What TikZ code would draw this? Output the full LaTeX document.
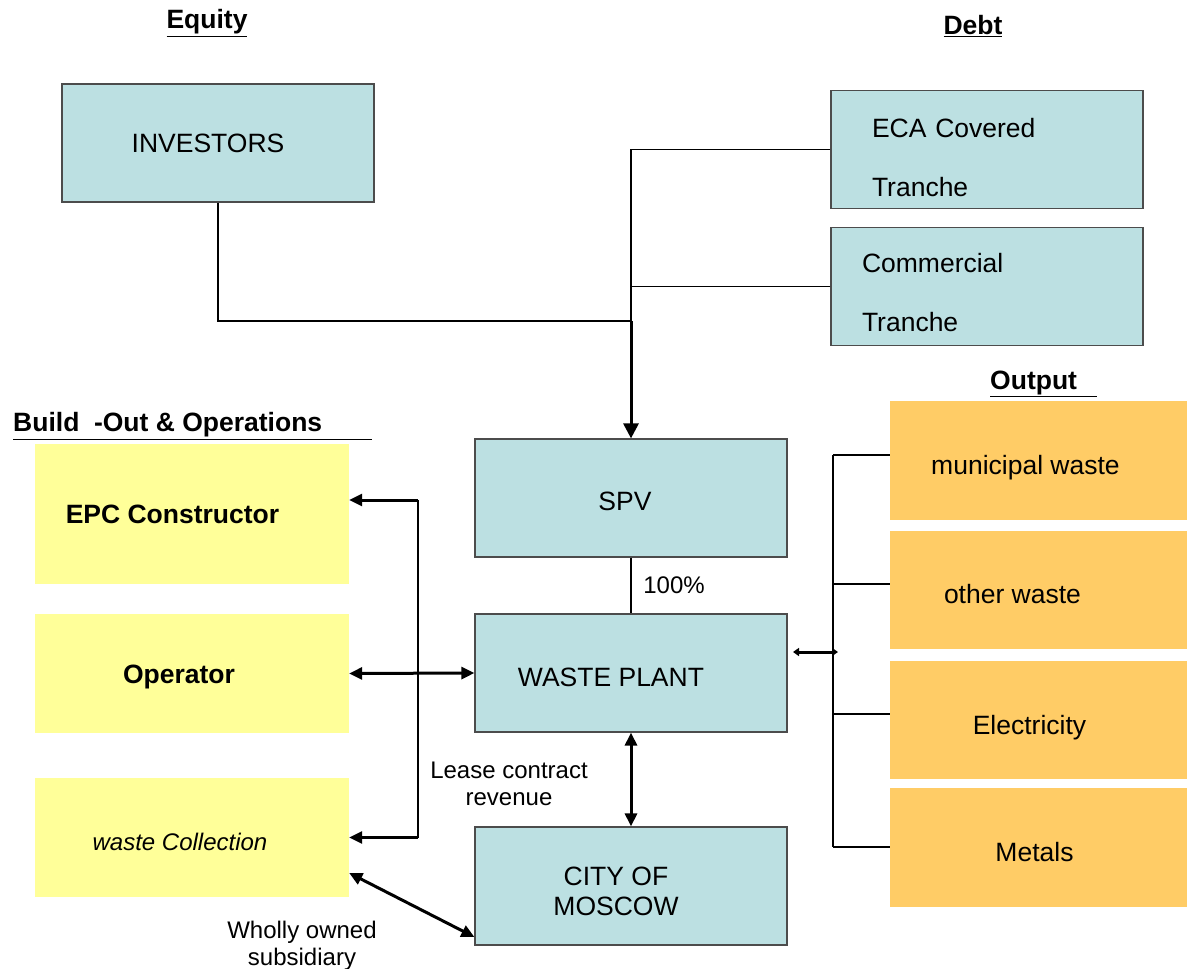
\documentclass[tikz,border=0pt]{standalone}
\usepackage{fontspec}
\setmainfont{Liberation Sans}
\usetikzlibrary{arrows.meta}
\definecolor{tealbox}{HTML}{BCE0E2}
\definecolor{yelbox}{HTML}{FFFF99}
\definecolor{orgbox}{HTML}{FFCC66}
\newcommand{\padR}[1]{\rule{#1}{0pt}}
\begin{document}
\begin{tikzpicture}[x=1pt,y=-1pt,
  boxfont/.style={font=\fontsize{26.5}{30}\selectfont},
  tbox/.style={draw=black!70, line width=1.2pt, fill=tealbox, minimum width=312pt, minimum height=118pt, inner sep=0pt, boxfont},
  ybox/.style={fill=yelbox, minimum width=314pt, minimum height=119pt, inner sep=0pt, boxfont},
  obox/.style={fill=orgbox, minimum width=297pt, minimum height=119pt, inner sep=0pt, boxfont},
  hdr/.style={font=\fontsize{26.5}{30}\selectfont\bfseries, inner sep=0pt},
  lbl/.style={font=\fontsize{24}{27}\selectfont, align=center, inner sep=0pt},
  thinln/.style={line width=1.5pt},
  thickln/.style={line width=3pt},
  bigtip/.style={-{Triangle[length=15pt,width=15pt]}},
  dbltip/.style={{Triangle[length=13pt,width=12pt]}-{Triangle[length=13pt,width=12pt]}},
  smalltip/.style={{Triangle[length=6pt,width=8pt]}-{Triangle[length=6pt,width=8pt]}}
]
\useasboundingbox (0,0) rectangle (1187,969);

% headers
\node[hdr] (hEq) at (207,23) {\underline{Equity}};
\node[hdr] (hDebt) at (973,26) {\underline{Debt}};
\node[hdr, anchor=west] (hOut) at (990,384) {\underline{Output\padR{20pt}}};
\node[hdr, anchor=west] (hBuild) at (13,426) {\underline{Build\hspace{0.55em}-Out \& Operations\padR{50pt}}};

% teal boxes
\node[tbox] (inv) at (218,143) {INVESTORS\padR{20pt}};
\node[tbox, text width=230pt, align=left, font=\fontsize{26.5}{59}\selectfont] (eca) at (987,149.5) {\rule{0pt}{35pt}ECA Covered\\Tranche};
\node[tbox, text width=250pt, align=left, font=\fontsize{26.5}{59}\selectfont] (com) at (987,286.5) {\rule{0pt}{31pt}Commercial\\Tranche};
\node[tbox, text height=25pt, text depth=0pt] (spv) at (631,498) {SPV\padR{12pt}};
\node[tbox, text height=27pt, text depth=0pt] (wp) at (631,673) {WASTE PLANT\padR{40pt}};
\node[tbox, align=center] (city) at (631,886) {\rule{0pt}{29pt}CITY OF\padR{30pt}\\MOSCOW\padR{30pt}};

% yellow boxes
\node[ybox, minimum height=140pt] (epc) at (192,514) {\bfseries EPC Constructor\padR{39pt}};
\node[ybox, text height=25pt, text depth=5.5pt] (op) at (192,673.5) {\bfseries Operator\padR{26pt}};
\node[ybox, text height=25pt, text depth=0pt, font=\fontsize{24}{27}\selectfont\itshape] (wc) at (192,837.5) {waste Collection\padR{24pt}};

% orange boxes
\node[obox, text height=33pt, text depth=5.5pt] (mw) at (1038.5,460.5) {municipal waste\padR{26pt}};
\node[obox, minimum height=118pt, text height=27pt, text depth=0pt] (ow) at (1038.5,590) {other waste\padR{52pt}};
\node[obox, minimum height=118pt, text height=35pt, text depth=5.5pt] (el) at (1038.5,720) {Electricity\padR{18pt}};
\node[obox, text height=27pt, text depth=0pt] (me) at (1038.5,847.5) {Metals\padR{8pt}};

% labels
\node[lbl] (pct) at (674,585) {100\%};
\node[lbl] (lease) at (509,784) {Lease contract\\revenue};
\node[lbl] (whol) at (302,946) {Wholly owned\\subsidiary};

% funding connectors
\coordinate (jtop) at (631,149.5);
\coordinate (jmid) at (631,321);
\draw[thinln] (eca.west) -- (jtop) -- (jmid);
\draw[thinln] (com.west) -- (com.west -| jtop);
\draw[thinln] (inv.south) |- (jmid);
\draw[thickln, bigtip] (jmid) -- (spv.north);

% SPV to waste plant
\draw[thinln] (spv.south) -- (wp.north);

% waste plant to city
\draw[thickln, dbltip] (wp.south) -- (city.north);

% left bracket
\coordinate (b1) at (418,500);
\coordinate (b2) at (418,837.5);
\draw[line width=2pt] (b1) -- (b2);
\draw[thickln, -{Triangle[length=13pt,width=12pt]}] (b1) -- (epc.east |- b1);
\draw[thickln, -{Triangle[length=13pt,width=12pt]}] (b2) -- (wc.east);
\draw[thickln, dbltip] (op.east) -- (wp.west);

% diagonal
\draw[thickln, dbltip] ([yshift=-35.5pt]wc.east) -- ([yshift=-51pt]city.west);

% right bracket
\coordinate (r1) at (833,455);
\coordinate (r2) at (833,584);
\coordinate (r3) at (833,714);
\coordinate (r4) at (833,847);
\draw[line width=2pt] (r1) -- (r4);
\draw[thinln] (r1) -- (mw.west |- r1);
\draw[thinln] (r2) -- (ow.west |- r2);
\draw[thinln] (r3) -- (el.west |- r3);
\draw[thinln] (r4) -- (me.west |- r4);
\coordinate (sa) at (793,652);
\coordinate (sb) at (838,652);
\draw[thickln, smalltip] (sa) -- (sb);
\end{tikzpicture}
\end{document}
